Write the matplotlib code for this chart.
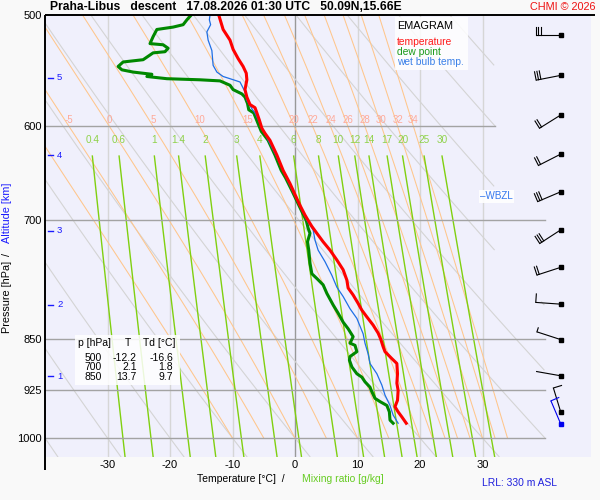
import numpy as np
import matplotlib

matplotlib.use("Agg")
import matplotlib.pyplot as plt
from matplotlib.patches import Rectangle
from matplotlib.ticker import NullLocator

plt.rcParams["font.family"] = ["Liberation Sans", "DejaVu Sans"]
plt.rcParams["axes.unicode_minus"] = False

# ---- sounding data ----
temp_p = [500, 512, 521, 529, 537, 544, 550, 556, 565, 572, 579, 582, 587, 594, 602, 607, 614,
          629, 645, 659, 671, 683, 694, 700, 707, 715, 725, 735, 747, 759, 772, 782, 791, 802,
          811, 820, 831, 842, 850, 861, 868, 878, 885, 900, 914, 925, 940, 950, 958, 966, 976]
temp_t = [-12.2, -11.5, -10.4, -9.9, -9.1, -8.3, -7.8, -7.7, -8.0, -7.7, -7.2, -6.4, -6.1, -5.7,
          -5.3, -4.8, -4.0, -2.9, -1.9, -0.8, 0.0, 0.8, 1.6, 2.1, 2.7, 3.5, 4.5, 5.6, 6.7, 7.7,
          8.3, 8.5, 9.3, 10.1, 10.7, 11.5, 12.5, 13.3, 13.7, 14.1, 14.4, 15.5, 16.3, 16.4, 16.3,
          16.5, 16.4, 16.0, 16.5, 17.1, 17.8]

dewp_p = [500, 504, 508, 510, 512, 518, 524, 525, 528, 531, 532, 538, 540, 544, 547, 549, 551,
          553, 555, 556, 557, 561, 565, 569, 572, 578, 584, 587, 596, 605, 609, 614, 629, 645,
          653, 668, 690, 700, 709, 715, 725, 735, 751, 764, 770, 778, 789, 804, 815, 827, 836,
          847, 856, 859, 868, 875, 880, 890, 900, 905, 912, 920, 927, 937, 942, 948, 958, 971, 976]
dewp_t = [-16.6, -17.3, -17.9, -19.5, -22.1, -22.7, -23.2, -21.1, -20.3, -20.8, -22.7, -24.3,
          -27.5, -28.3, -27.7, -25.9, -22.9, -23.7, -20.5, -15.2, -12.0, -10.4, -9.9, -8.5, -8.0,
          -7.6, -7.4, -6.6, -6.0, -5.4, -4.9, -4.3, -3.2, -2.2, -1.5, -0.4, 1.1, 1.8, 2.1, 2.4,
          2.0, 2.2, 2.4, 2.7, 3.5, 4.5, 5.1, 6.1, 6.9, 7.7, 8.5, 9.3, 8.8, 9.6, 9.9, 8.8, 8.7,
          9.1, 9.9, 10.7, 11.2, 12.0, 12.3, 12.8, 13.6, 14.7, 15.1, 15.2, 15.7]

wetb_p = [500, 504, 508, 514, 521, 530, 543, 549, 553, 555, 558, 567, 575, 583, 587, 605, 630,
          660, 690, 701, 711, 723, 735, 749, 766, 781, 793, 809, 822, 843, 856, 871, 885, 900,
          917, 932, 948, 963, 976]
wetb_t = [-13.6, -13.7, -13.5, -14.1, -13.9, -13.3, -13.1, -12.5, -11.5, -10.4, -8.8, -8.0,
          -7.7, -6.9, -6.4, -5.0, -3.0, -0.9, 1.2, 2.0, 2.9, 3.2, 3.7, 4.8, 5.9, 6.7, 7.7, 8.8,
          9.9, 10.9, 11.2, 11.7, 12.0, 13.1, 13.9, 14.4, 15.2, 15.7, 16.5]

# wind barbs (every 500 m), speed in kt
wind_p = [517, 552, 589, 628, 668, 711, 756, 803, 851, 903, 958]
wind_dir = [270, 259, 238, 243, 247, 237, 252, 274, 288, 280, 343]
wind_spd = [30, 30, 20, 20, 30, 30, 20, 10, 5, 2, 10]
sfc_p, sfc_dir, sfc_spd = 977, 337, 10

# altitude marks on the pressure axis
alt_km = [1, 2, 3, 4, 5]
alt_p = [904, 804, 712, 629, 554]

table_levels = [500, 700, 850]
table_t = [-12.2, 2.1, 13.7]
table_td = [-16.6, 1.8, 9.7]

p_levels = [600, 700, 850, 925, 1000]
t_ticks = [-30, -20, -10, 0, 10, 20, 30]
theta_d = list(range(-40, 101, 10))
theta_w = [-10, -5, 0, 5, 10, 15, 20, 22, 24, 26, 28, 30, 32, 34]
mix_ratio = [0.4, 0.6, 1, 1.4, 2, 3, 4, 6, 8, 10, 12, 14, 17, 20, 25, 30]

P_TOP, P_BOT = 500.0, 1031.0
T_MIN = -40.0
T_MAX_AX = T_MIN + 546 / 6.25


def sat_vp(tc):
    return 6.112 * np.exp(17.67 * tc / (tc + 243.5))


def dewpoint_from_e(e):
    x = np.log(e / 6.112)
    return 243.5 * x / (17.67 - x)


def moist_adiabat(t0, p_grid):
    rd, cp, lv, eps = 287.04, 1005.7, 2.501e6, 0.622

    def f(p, t):
        es = sat_vp(t - 273.15)
        rs = eps * es / (p - es)
        return (rd * t + lv * rs) / (cp + lv * lv * rs * eps / (rd * t * t)) / p

    t = t0 + 273.15
    out = [t]
    for i in range(len(p_grid) - 1):
        p = p_grid[i]
        h = p_grid[i + 1] - p
        k1 = f(p, t)
        k2 = f(p + h / 2, t + h / 2 * k1)
        k3 = f(p + h / 2, t + h / 2 * k2)
        k4 = f(p + h, t + h * k3)
        t += h / 6 * (k1 + 2 * k2 + 2 * k3 + k4)
        out.append(t)
    return np.array(out) - 273.15


def draw_barb(ov, x0, y0, direction, speed, color):
    th = np.deg2rad(direction)
    ux, uy = np.sin(th), -np.cos(th)
    px, py = np.cos(th), np.sin(th)
    staff, blen, gap = 25.0, 8.5, 2.4
    ov.plot([x0, x0 + staff * ux], [y0, y0 + staff * uy], color=color, lw=0.8, solid_capstyle="butt")
    rounded = int(round(speed / 5.0)) * 5
    full, half = rounded // 10, (rounded % 10) // 5
    pos = staff
    for k in range(full + half):
        length = blen if k < full else blen * 0.5
        sx, sy = x0 + pos * ux, y0 + pos * uy
        ov.plot([sx, sx + length * px], [sy, sy + length * py], color=color, lw=0.8)
        pos -= gap
    ov.plot([x0], [y0], "s", ms=2.2, color=color)


fig = plt.figure(figsize=(6, 5), dpi=100, facecolor="#f9f9f9")
ax = fig.add_axes([45 / 600, (500 - 456.7) / 500, 546 / 600, 441.7 / 500])
ax.set_facecolor("#f0f0fc")
ax.set_yscale("log")
ax.set_xlim(T_MIN, T_MAX_AX)
ax.set_ylim(P_BOT, P_TOP)
for s in ax.spines.values():
    s.set_visible(False)
ax.set_yticks([500] + p_levels)
ax.set_yticklabels([str(v) for v in [500] + p_levels])
ax.yaxis.set_minor_locator(NullLocator())
ax.set_xticks(t_ticks)
ax.set_xticklabels([str(v) for v in t_ticks])
ax.tick_params(length=0, labelsize=8, pad=2.5)

# temperature grid
for t in t_ticks:
    ax.plot([t, t], [P_TOP, P_BOT], color="#999999" if t == 0 else "#d6d6d6", lw=1.0, zorder=1)

# dry adiabats
p_dry = np.linspace(P_TOP, P_BOT, 300)
clip = np.where(p_dry < 800, 32.0, 40.0)
for th in theta_d:
    t = (th + 273.15) * (p_dry / 1000.0) ** 0.2857 - 273.15
    t = np.where(t > clip, np.nan, t)
    ax.plot(t, p_dry, color="#d4d4d4", lw=0.8, zorder=1.2)

# moist adiabats
p_moist = np.linspace(1000, P_TOP, 251)
for tw in theta_w:
    t = moist_adiabat(tw, p_moist)
    ax.plot(t, p_moist, color="#ffc68c", lw=0.75, zorder=1.4)
    t600 = np.interp(600, p_moist[::-1], t[::-1])
    if t600 > T_MIN + 1:
        ax.text(t600, 594, str(tw), color="#ffaa99", fontsize=7, ha="center", va="center", zorder=3)

# mixing ratio lines
p_mix = np.linspace(630, P_BOT, 120)
for w in mix_ratio:
    t = dewpoint_from_e(w * p_mix / (622.0 + w))
    ax.plot(t, p_mix, color="#80d010", lw=1.0, zorder=1.6)
    label = f"{w:g}"
    ax.text(t[0], 614, label, color="#8fd24a", fontsize=7.2, ha="center", va="center", zorder=3)

# pressure lines
for p in p_levels:
    right = 32 if p == 600 else 40
    ax.plot([T_MIN, right], [p, p], color="#a3a3a3", lw=1.0, zorder=2.5)

# profiles
ax.plot(dewp_t, dewp_p, color="#008800", lw=2.2, zorder=4)
ax.plot(wetb_t, wetb_p, color="#1f6fe5", lw=0.9, zorder=4.5)
ax.plot(temp_t, temp_p, color="#ff0000", lw=2.2, zorder=5)

# wet-bulb zero level
tw_arr = np.array(wetb_t)
i = np.where((tw_arr[:-1] < 0) & (tw_arr[1:] >= 0))[0][-1]
wbzl_p = wetb_p[i] + (wetb_p[i + 1] - wetb_p[i]) * (0 - tw_arr[i]) / (tw_arr[i + 1] - tw_arr[i])
ax.text(29.6, wbzl_p, "\u2013WBZL", color="#3377ee", fontsize=7.1, ha="left", va="center", zorder=6,
        bbox=dict(boxstyle="square,pad=0.15", fc="white", ec="none", alpha=0.9))

# overlay in pixel coordinates
ov = fig.add_axes([0, 0, 1, 1], zorder=10)
ov.set_xlim(0, 600)
ov.set_ylim(500, 0)
ov.axis("off")


def ypix(p):
    return 500 - ax.transData.transform((0, p))[1]


ov.plot([45, 45], [15, 470], color="black", lw=1.4, solid_capstyle="butt")
ov.plot([45, 595], [15, 15], color="black", lw=1.4, solid_capstyle="butt")

for km, p in zip(alt_km, alt_p):
    y = ypix(p)
    ov.plot([48, 53], [y, y], color="#1a1aff", lw=1.0)
    ov.text(57, y, str(km), color="#1a1aff", fontsize=6.8, va="center", ha="left")

bx = 560.7
for p, d, s in zip(wind_p, wind_dir, wind_spd):
    draw_barb(ov, bx, ypix(p), d, s, "black")
draw_barb(ov, bx, ypix(sfc_p), sfc_dir, sfc_spd, "#0000ee")

# legend box
ov.add_patch(Rectangle((395, 17), 73, 53, fc="white", ec="none", alpha=0.85))
ov.text(397, 26, "EMAGRAM", fontsize=7.8, va="center", ha="left", color="black")
ov.text(397, 42.3, "temperature", fontsize=7.4, va="center", ha="left", color="#ff1a1a")
ov.text(397, 52, "dew point", fontsize=7.4, va="center", ha="left", color="#1a9a1a")
ov.text(397, 62.3, "wet bulb temp.", fontsize=7.4, va="center", ha="left", color="#3a80e8")

# value table
ov.add_patch(Rectangle((75, 335), 105, 50, fc="white", ec="none", alpha=0.85))
ov.text(78, 343, "p [hPa]", fontsize=7.5, va="center", ha="left")
ov.text(127.5, 343, "T", fontsize=7.5, va="center", ha="center")
ov.text(143, 343, "Td [°C]", fontsize=7.5, va="center", ha="left")
for k, (lev, t, td) in enumerate(zip(table_levels, table_t, table_td)):
    y = 358 + 9.5 * k
    ov.text(101.7, y, str(lev), fontsize=7.5, va="center", ha="right")
    ov.text(136.7, y, f"{t:.1f}", fontsize=7.5, va="center", ha="right")
    ov.text(173.3, y, f"{td:.1f}", fontsize=7.5, va="center", ha="right")

# titles and axis labels
ov.text(50.5, 7.5, "Praha-Libus   descent   17.08.2026 01:30 UTC   50.09N,15.66E",
        fontsize=8.7, fontweight="bold", va="center", ha="left")
ov.text(595.5, 7.5, "CHMI © 2026", fontsize=7.8, color="#ee1111", va="center", ha="right")
ov.text(197, 479.5, "Temperature [°C]  /", fontsize=7.5, va="center", ha="left")
ov.text(302.5, 479.5, "Mixing ratio [g/kg]", fontsize=7.5, va="center", ha="left", color="#66cc22")
ov.text(482.5, 482.5, "LRL: 330 m ASL", fontsize=7.4, va="center", ha="left", color="#2020dd")
ov.text(7.5, 333, "Pressure [hPa]", fontsize=7.8, rotation=90, va="bottom", ha="center")
ov.text(7.5, 254, "/", fontsize=7.8, rotation=90, va="center", ha="center")
ov.text(7.5, 243, "Altitude [km]", fontsize=7.8, rotation=90, va="bottom", ha="center", color="#1a1aff")

fig.savefig("out.png", dpi=100, facecolor=fig.get_facecolor())
